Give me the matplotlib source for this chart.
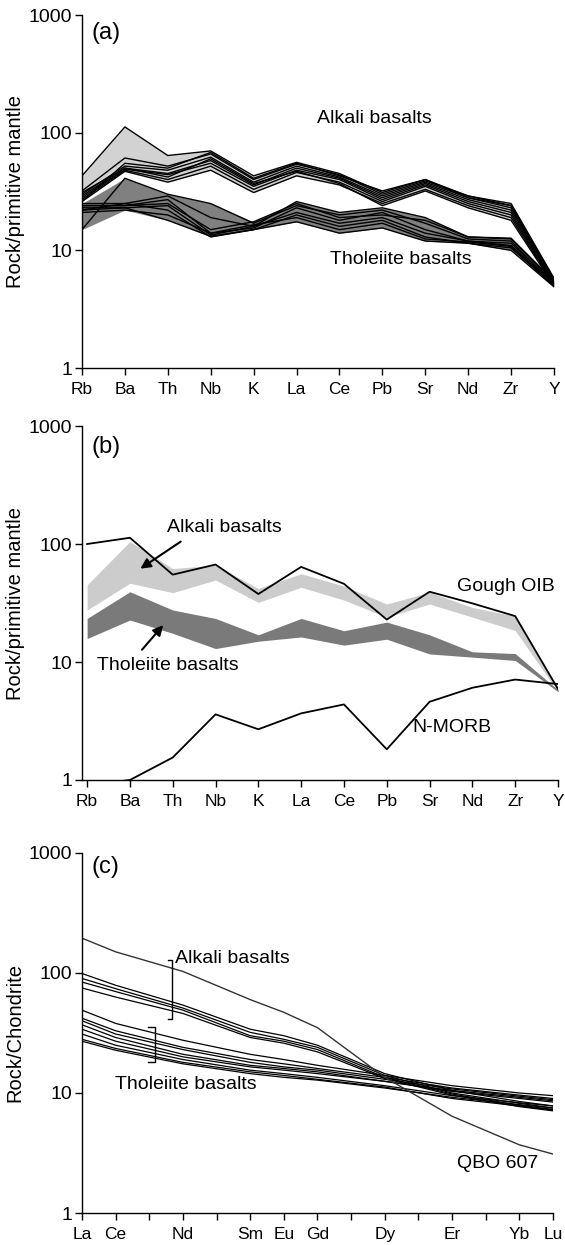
import matplotlib
matplotlib.use('Agg')
import matplotlib.pyplot as plt
import numpy as np

plt.rcParams['font.family'] = ['Liberation Sans', 'DejaVu Sans']

# trace elements for the spider diagrams
spider = ['Rb', 'Ba', 'Th', 'Nb', 'K', 'La', 'Ce', 'Pb', 'Sr', 'Nd', 'Zr', 'Y']

# (a) individual samples, normalised to primitive mantle
alkali = [
    [43, 112, 64, 70, 43, 56, 45, 31, 40, 29, 25, 5.8],
    [32, 61, 52, 66, 40, 54, 44, 30, 39, 29, 24, 5.6],
    [30, 52, 48, 62, 38, 52, 42, 29, 38, 28, 23, 5.5],
    [29, 50, 45, 58, 36, 50, 41, 28, 37, 27, 22, 5.4],
    [28, 49, 44, 55, 35, 48, 40, 27, 36, 26, 21, 5.3],
    [27, 48, 40, 52, 33, 46, 38, 26, 35, 25, 20, 5.2],
    [26, 47, 38, 48, 31, 43, 36, 25, 33, 24, 19, 5.1],
    [31, 50, 42, 60, 37, 47, 37, 24, 32, 23, 18, 5.0],
    [26, 55, 50, 68, 41, 55, 43, 32, 40, 28, 24, 5.7],
]
tholeiite = [
    [15, 41, 30, 25, 17, 24, 20, 22, 17, 12.5, 12, 5.0],
    [25, 25, 29, 19, 16, 26, 21, 23, 19, 13, 12.7, 5.5],
    [24, 24, 27, 14, 15.5, 23, 18, 21, 15, 12, 11.5, 5.2],
    [23, 23, 24, 13.5, 16, 21, 17, 19, 14, 12, 11, 5.1],
    [22, 25, 22, 13, 15, 20, 16, 18, 13, 11.5, 10.5, 5.0],
    [21, 22, 20, 14, 16.5, 19, 15, 17, 12.5, 11.8, 10.8, 5.0],
    [22, 23, 18, 13.2, 15, 17.5, 14, 15.5, 12, 11.5, 10, 4.9],
    [24, 24, 25, 15, 17.5, 25, 19, 20, 18, 13, 12.5, 5.3],
]

# (b) field outlines and reference compositions
alk_hi = [45, 105, 62, 66, 42, 56, 44, 31, 39, 29, 24.5, 6.0]
alk_lo = [27.6, 46.5, 38.7, 49.5, 32, 43, 33.5, 24, 31, 24, 18.5, 5.6]
thol_hi = [23.4, 39.4, 27.6, 23.4, 17, 23.4, 18.4, 21.8, 17, 12.2, 11.8, 5.8]
thol_lo = [15.8, 22.7, 17.5, 13, 15, 16.3, 13.9, 15.6, 11.7, 11, 10.3, 5.6]
gough_oib = [100, 113, 55, 67, 37.7, 64, 46, 22.9, 39.4, 31.4, 24.5, 5.9]
n_morb = [0.9, 1.0, 1.55, 3.6, 2.69, 3.67, 4.37, 1.82, 4.6, 6.05, 7.1, 6.5]

# (c) rare earth elements, normalised to chondrite
ree_all = ['La', 'Ce', 'Pr', 'Nd', 'Pm', 'Sm', 'Eu', 'Gd', 'Tb', 'Dy',
           'Ho', 'Er', 'Tm', 'Yb', 'Lu']
ree_shown = ['La', 'Ce', 'Nd', 'Sm', 'Eu', 'Gd', 'Dy', 'Er', 'Yb', 'Lu']
ree_alkali = [
    [99, 79, 54, 34, 30, 25, 14.5, 10.5, 8.5, 7.8],
    [90, 74, 51, 32, 28, 24, 14.0, 10.0, 8.2, 7.5],
    [84, 70, 49, 30, 27, 23, 13.5, 9.8, 7.9, 7.3],
    [75, 63, 46, 29, 26, 22, 13.2, 9.6, 7.7, 7.1],
]
ree_tholeiite = [
    [49, 38, 27.5, 21, 19, 17, 14, 11.5, 10, 9.5],
    [42, 33, 24, 19, 17.5, 16, 13.5, 11, 9.6, 9.0],
    [40, 31, 23, 18, 16.5, 15.5, 13, 10.8, 9.4, 8.8],
    [37, 29, 21, 17, 16, 15, 12.5, 10.5, 9.2, 8.6],
    [34, 27, 20, 16.5, 15.5, 14.5, 12.5, 10.3, 9.0, 8.4],
    [31, 25, 19, 15.5, 14.5, 13.5, 11.5, 9.5, 8.3, 7.8],
    [27, 22.7, 17.5, 14.5, 13.5, 12.8, 11, 9.2, 8.0, 7.5],
    [28, 23.5, 18, 15, 14, 13, 11.2, 9.0, 7.8, 7.2],
]
qbo_607 = [195, 150, 103, 60, 47, 35, 13.5, 6.4, 3.7, 3.1]


def style(ax, ylabel):
    ax.set_yscale('log')
    ax.set_ylim(1, 1000)
    ax.set_yticks([1, 10, 100, 1000])
    ax.set_yticklabels(['1', '10', '100', '1000'])
    ax.minorticks_off()
    for side in ['top', 'right']:
        ax.spines[side].set_visible(False)
    for side in ['left', 'bottom']:
        ax.spines[side].set_linewidth(1.0)
    ax.tick_params(axis='y', direction='out', length=5, width=1,
                   labelsize=14, pad=2)
    ax.tick_params(axis='x', direction='out', length=5, width=1,
                   labelsize=12.5, pad=5)
    ax.set_ylabel(ylabel, fontsize=14.5, labelpad=3)


fig = plt.figure(figsize=(5.65, 12.45), dpi=100)
x = np.arange(len(spider))

# ---- (a)
ax1 = fig.add_axes([0.1451, 0.7044, 0.8354, 0.2835])
for group, colour in [(alkali, '#d2d2d2'), (tholeiite, '#808080')]:
    arr = np.array(group)
    ax1.fill_between(x, arr.min(axis=0), arr.max(axis=0), color=colour,
                     lw=0, zorder=1)
for row in alkali + tholeiite:
    ax1.plot(x, row, color='black', lw=1.0, zorder=2)
ax1.set_xlim(0, 11)
ax1.set_xticks(x)
ax1.set_xticklabels(spider)
style(ax1, 'Rock/primitive mantle')
ax1.text(5.48, 133, 'Alkali basalts', fontsize=14, va='center')
ax1.text(5.78, 8.3, 'Tholeiite basalts', fontsize=14, va='center')
ax1.text(0.021, 0.95, '(a)', transform=ax1.transAxes, fontsize=17,
         va='center')

# ---- (b)
ax2 = fig.add_axes([0.1451, 0.3735, 0.8425, 0.2843])
ax2.fill_between(x, alk_lo, alk_hi, color='#cccccc', lw=0, zorder=1)
ax2.fill_between(x, thol_lo, thol_hi, color='#7a7a7a', lw=0, zorder=1)
ax2.plot(x, gough_oib, color='black', lw=1.3, zorder=3)
ax2.plot(x, n_morb, color='black', lw=1.3, zorder=3)
ax2.set_xlim(-0.12, 11)
ax2.set_xticks(x)
ax2.set_xticklabels(spider)
style(ax2, 'Rock/primitive mantle')
ax2.text(1.87, 139, 'Alkali basalts', fontsize=14, va='center')
ax2.annotate('', xy=(1.19, 60), xytext=(2.24, 108),
             arrowprops=dict(arrowstyle='-|>', color='black', lw=1.5,
                             mutation_scale=15))
ax2.text(0.23, 9.4, 'Tholeiite basalts', fontsize=14, va='center')
ax2.annotate('', xy=(1.82, 21.4), xytext=(1.24, 12.2),
             arrowprops=dict(arrowstyle='-|>', color='black', lw=1.5,
                             mutation_scale=15))
ax2.text(8.64, 44, 'Gough OIB', fontsize=14, va='center')
ax2.text(7.6, 2.76, 'N-MORB', fontsize=14, va='center')
ax2.text(0.021, 0.94, '(b)', transform=ax2.transAxes, fontsize=17,
         va='center')

# ---- (c)
ax3 = fig.add_axes([0.1451, 0.0257, 0.8336, 0.2892])
xr = [ree_all.index(e) for e in ree_shown]
for row in ree_alkali + ree_tholeiite:
    ax3.plot(xr, row, color='black', lw=0.9)
ax3.plot(xr, qbo_607, color='#333333', lw=1.0)
ax3.set_xlim(0, 14)
ax3.set_xticks(range(len(ree_all)))
ax3.set_xticklabels([e if e in ree_shown else '' for e in ree_all])
style(ax3, 'Rock/Chondrite')
# brackets marking the two groups
ax3.plot([2.56, 2.68, 2.68, 2.56], [129, 129, 41.6, 41.6], color='black',
         lw=1.0)
ax3.plot([1.96, 2.17, 2.17, 1.96], [35.5, 35.5, 18.1, 18.1], color='black',
         lw=1.0)
ax3.text(2.77, 131, 'Alkali basalts', fontsize=14, va='center')
ax3.text(0.98, 11.8, 'Tholeiite basalts', fontsize=14, va='center')
ax3.text(11.16, 2.6, 'QBO 607', fontsize=14, va='center')
ax3.text(0.021, 0.961, '(c)', transform=ax3.transAxes, fontsize=17,
         va='center')

fig.savefig('out.png', dpi=100)
